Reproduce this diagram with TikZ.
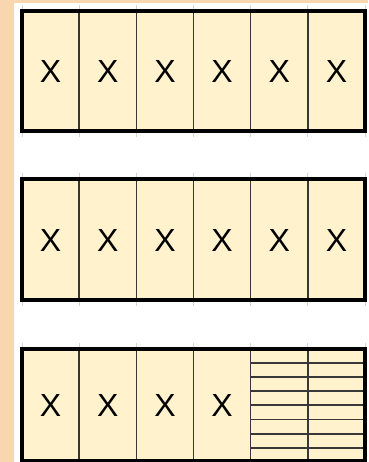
\documentclass[tikz,border=0pt]{standalone}
\usepackage{fontspec}
\setmainfont{Liberation Sans}
\definecolor{peach}{HTML}{F8D7B0}
\definecolor{cream}{HTML}{FFF2CC}
\definecolor{divgray}{HTML}{383838}
\definecolor{gridgray}{HTML}{D4D4D4}
\tikzset{
  cellbox/.style={fill=cream, draw=none},
  outerframe/.style={draw=black, line width=4pt},
  divider/.style={draw=divgray, line width=1.6pt},
  rowline/.style={draw=divgray, line width=1.9pt},
  gridtick/.style={draw=gridgray, line width=0.9pt},
  xmark/.style={font=\fontsize{32}{36}\selectfont, inner sep=0pt, text=black}
}
\begin{document}
\begin{tikzpicture}[x=1pt,y=-1pt]
\useasboundingbox (0,0) rectangle (368,462);
\clip (0,0) rectangle (368,462);
\fill[white] (0,0) rectangle (368,462);
\fill[peach] (0,0) rectangle (368,3.3);
\fill[peach] (0,0) rectangle (14,462);
% boxes: top, bottom
\foreach \t/\b in {11.3/131, 179/299.5, 348.5/461.3}{
  \fill[cellbox] (22,\t) rectangle (365,\b);
  \foreach \i in {0,...,6}{
    \pgfmathsetmacro{\xx}{22+57.17*\i}
    \draw[gridtick] (\xx,\t-6) -- (\xx,\t-2);
    \draw[gridtick] (\xx,\b+2) -- (\xx,\b+6);
  }
  \foreach \i in {1,...,5}{
    \pgfmathsetmacro{\xx}{22+57.17*\i}
    \draw[divider] (\xx,\t) -- (\xx,\b);
  }
}
% rows in last two columns of the third box
\foreach \k in {1,...,7}{
  \pgfmathsetmacro{\yy}{348.5+14.2*\k}
  \draw[rowline] (250.7,\yy) -- (365,\yy);
}
% outer frames
\foreach \t/\b in {11.3/131, 179/299.5, 348.5/461.3}{
  \draw[outerframe] (22,\t) rectangle (365,\b);
}
% X marks
\foreach \i in {0,...,5}{
  \pgfmathsetmacro{\xx}{22+57.17*(\i+0.5)}
  \node[xmark] (a\i) at (\xx,71.5) {X};
  \node[xmark] (b\i) at (\xx,240.5) {X};
}
\foreach \i in {0,...,3}{
  \pgfmathsetmacro{\xx}{22+57.17*(\i+0.5)}
  \node[xmark] (c\i) at (\xx,405.5) {X};
}
\end{tikzpicture}
\end{document}
